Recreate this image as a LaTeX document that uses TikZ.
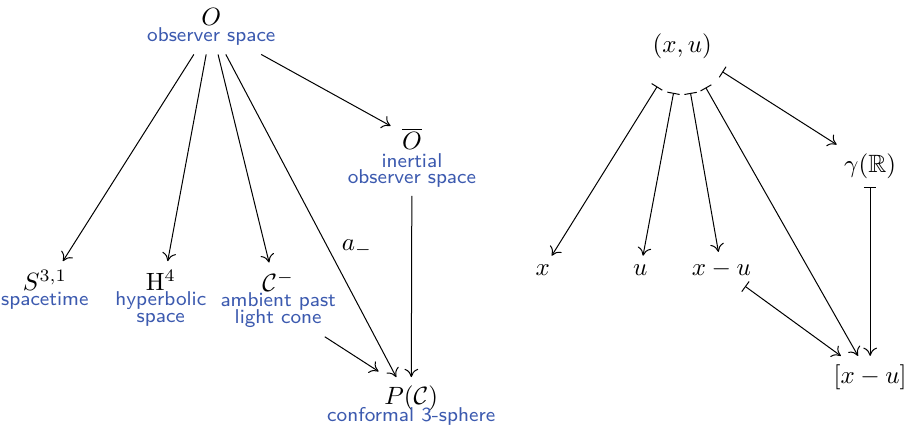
\documentclass[tikz,border=0pt]{standalone}
\usepackage{amssymb}
\usetikzlibrary{arrows.meta}
\definecolor{lblue}{RGB}{60,90,175}
\newcommand{\lbl}[1]{{\footnotesize\sffamily\color{lblue}#1}}
\tikzset{
  >={Computer Modern Rightarrow[length=3.3pt,width=5.5pt]},
  obj/.style={align=center,anchor=north},
  pt/.style={anchor=base},
  mapsto/.style={{Bar[width=5pt]}->},
}
\begin{document}
\begin{tikzpicture}[scale=1.0]
\useasboundingbox (0,0) rectangle (12.72,-6.03);
% left diagram
\node[obj] (O)  at (2.97,0.01)  {$O$\\[-5.4pt]\lbl{observer space}};
\node[obj] (Ob) at (5.79,-1.67) {$\overline{O}$\\[-5pt]\lbl{inertial}\\[-5.6pt]\lbl{observer space}};
\node[obj] (S)  at (0.63,-3.67) {$S^{3,1}$\\[-5.9pt]\lbl{spacetime}};
\node[obj] (H)  at (2.26,-3.67) {$\mathrm{H}^4$\\[-5.8pt]\lbl{hyperbolic}\\[-5.2pt]\lbl{space}};
\node[obj] (C)  at (3.91,-3.69) {$\mathcal{C}^-$\\[-5.8pt]\lbl{ambient past}\\[-5.2pt]\lbl{light cone}};
\node[obj] (P)  at (5.78,-5.3) {$P(\mathcal{C})$\\[-5.4pt]\lbl{conformal 3-sphere}};
\draw[->] (O) -- (S);
\draw[->] (O) -- (H);
\draw[->] (O) -- (C);
\draw[->] (O) -- node[right=2pt,pos=0.6] {$a_-$} (P);
\draw[->] (O) -- ([xshift=-0.3cm,yshift=-0.1cm]Ob.north);
\draw[->] (Ob) -- (P);
\draw[->] ([xshift=-0.28cm]C.south east) -- ([xshift=-0.46cm,yshift=0.08cm]P.north);
% right diagram
\node[circle,minimum size=37.5pt] (xu) at (9.59,-0.65) {$(x,u)$};
\node[pt] (x)   at (7.63,-3.87) {$x$};
\node[pt] (u)   at (9.00,-3.87) {$u$};
\node[pt] (xmu) at (10.14,-3.87) {$x-u$};
\node[pt] (g)   at (12.23,-2.42) {$\gamma(\mathbb{R})$};
\node[pt] (cls) at (12.23,-5.39) {$[x-u]$};
\draw[mapsto] (xu) -- (x);
\draw[mapsto] (xu) -- (u);
\draw[mapsto] (xu) -- (xmu);
\draw[mapsto] (xu) -- (cls);
\draw[mapsto] (xu) -- (g);
\draw[mapsto] (g) -- (cls);
\draw[mapsto] (xmu) -- (cls);
\end{tikzpicture}
\end{document}
